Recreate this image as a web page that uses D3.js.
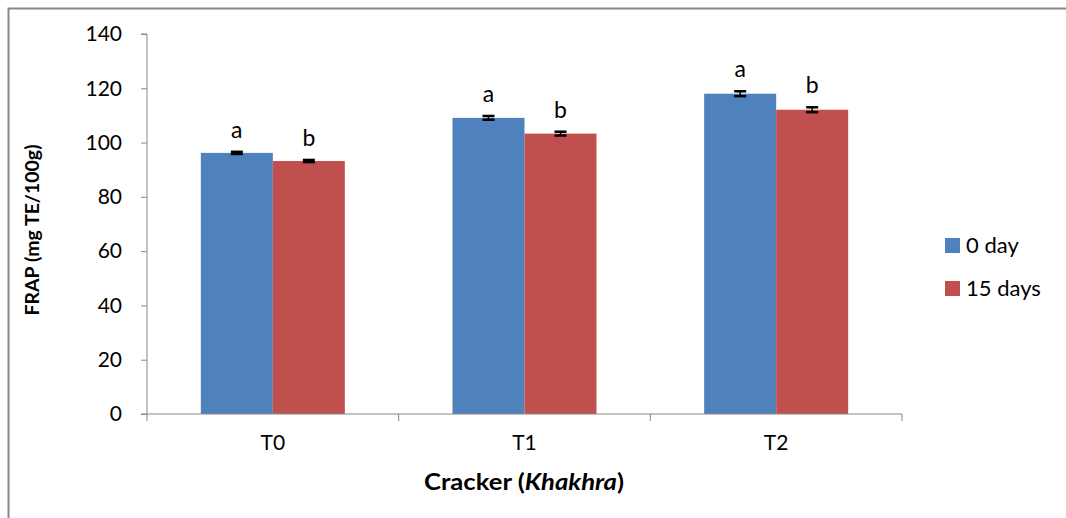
<!DOCTYPE html>
<html><head><meta charset="utf-8">
<script src="https://cdn.jsdelivr.net/npm/d3@7"></script>
<style>body{margin:0;background:#fff;} svg text{font-family:Lato,"Open Sans",sans-serif;}</style>
</head><body><svg id="c" width="1066" height="518"></svg>
<script>
const categories = ["T0","T1","T2"];
const seriesNames = ["0 day","15 days"];
const colors = ["#4F81BD","#C0504D"];
const day0 = [96.2, 109.1, 118.0];
const day15 = [93.2, 103.3, 112.1];
const err0 = [0.4, 0.7, 0.9];
const err15 = [0.4, 0.7, 0.9];
const letters0 = ["a","a","a"];
const letters15 = ["b","b","b"];
const yTicks = [0,20,40,60,80,100,120,140];

const svg = d3.select("#c");
const FONT = "Lato,'Open Sans',sans-serif";
// outer border
svg.append("path").attr("d","M8.5,518 V8.5 H1066").attr("fill","none").attr("stroke","#888").attr("stroke-width",2);

const m = {l:147, r:902, t:34, b:414};
const x0 = d3.scaleBand().domain(categories).range([m.l, m.r]);
const x1 = d3.scaleBand().domain(seriesNames).range([0, 144]);
const y = d3.scaleLinear().domain([0,140]).range([m.b, m.t]);

const data = categories.map((c,i)=>({c, vals:[
  {s:seriesNames[0], v:day0[i], e:err0[i], l:letters0[i], col:colors[0]},
  {s:seriesNames[1], v:day15[i], e:err15[i], l:letters15[i], col:colors[1]}]}));

const g = svg.append("g");
const groups = g.selectAll("g.cat").data(data).join("g")
  .attr("transform", d=>`translate(${x0(d.c)+x0.bandwidth()/2-72},0)`);
groups.selectAll("rect").data(d=>d.vals).join("rect")
  .attr("x", d=>x1(d.s)).attr("width", x1.bandwidth())
  .attr("y", d=>y(d.v)).attr("height", d=>y(0)-y(d.v)).attr("fill", d=>d.col);
// error bars
groups.selectAll("g.err").data(d=>d.vals).join("g").each(function(d){
  const cx = x1(d.s)+x1.bandwidth()/2, gg=d3.select(this);
  gg.append("line").attr("x1",cx).attr("x2",cx).attr("y1",y(d.v+d.e)).attr("y2",y(d.v-d.e)).attr("stroke","#000").attr("stroke-width",1.5);
  [d.v+d.e, d.v-d.e].forEach(v=>gg.append("line").attr("x1",cx-6).attr("x2",cx+6).attr("y1",y(v)).attr("y2",y(v)).attr("stroke","#000").attr("stroke-width",2.5));
  gg.append("text").attr("x",cx).attr("y",y(d.v+d.e)-14).attr("text-anchor","middle").attr("font-size",23).attr("fill","#000").text(d.l);
});

// y axis
const ya = svg.append("g").attr("transform",`translate(${m.l},0)`).call(d3.axisLeft(y).tickValues(yTicks).tickSize(6).tickPadding(19));
ya.select(".domain").attr("stroke","#888").attr("d",`M-6,${m.t}H0V${m.b}H-6`);
ya.selectAll(".tick line").attr("stroke","#888");
ya.selectAll(".tick text").attr("font-size",21).attr("fill","#000").style("font-family",FONT);

// x axis
const xa = svg.append("g").attr("transform",`translate(0,${m.b})`).call(d3.axisBottom(x0).tickSize(0).tickPadding(21));
xa.select(".domain").attr("stroke","#888").attr("d",`M${m.l},0H${m.r}`);
xa.selectAll(".tick text").attr("font-size",21).attr("fill","#000").style("font-family",FONT);
const bounds = [m.l, ...categories.map(c=>x0(c)+x0.bandwidth())];
svg.append("g").selectAll("line").data(bounds).join("line")
  .attr("x1",d=>d).attr("x2",d=>d).attr("y1",m.b).attr("y2",m.b+7).attr("stroke","#888");

// axis titles
svg.append("text").attr("transform","translate(39,230) rotate(-90)").attr("text-anchor","middle")
  .attr("font-size",19.5).attr("font-weight","bold").attr("fill","#000").text("FRAP (mg TE/100g)");
const xtg = svg.append("g").attr("transform","translate(524,490)");
const xt = xtg.append("text").attr("x",0).attr("y",0).attr("text-anchor","middle")
  .attr("font-size",22).attr("font-weight","bold").attr("fill","#000");
xt.append("tspan").text("Cracker (");
xt.append("tspan").attr("font-style","italic").text("Khakhra");
xt.append("tspan").text(")");
const len = xt.node().getComputedTextLength();
if (len > 0) xt.attr("transform", `scale(${200/len},1)`);

// legend
const lg = svg.append("g").selectAll("g").data(seriesNames).join("g")
  .attr("transform",(d,i)=>`translate(945,${238+i*43})`);
lg.append("rect").attr("width",15).attr("height",15).attr("fill",(d,i)=>colors[i]);
lg.append("text").attr("x",21).attr("y",15).attr("font-size",22).attr("fill","#000").text(d=>d);
</script></body></html>
